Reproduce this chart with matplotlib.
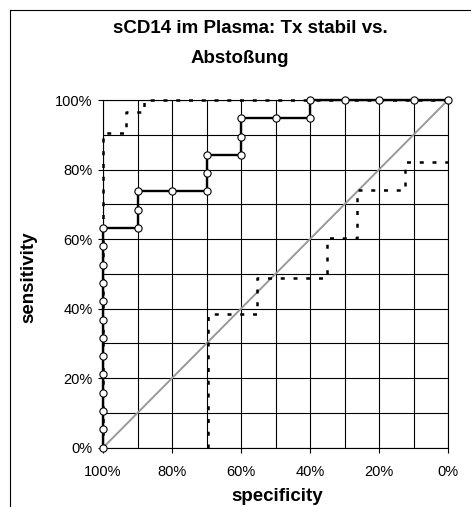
import matplotlib
matplotlib.use("Agg")
import matplotlib.pyplot as plt
from matplotlib.lines import Line2D

plt.rcParams['font.family'] = ['Liberation Sans', 'DejaVu Sans']

title_lines = ["sCD14 im Plasma: Tx stabil vs.", "Abstoßung"]
x_label = "specificity"
y_label = "sensitivity"
tick_values = [0, 20, 40, 60, 80, 100]
tick_labels = ["0%", "20%", "40%", "60%", "80%", "100%"]

# ROC curve with markers (specificity %, sensitivity %)
spec_roc = [100, 100, 100, 100, 100, 100, 100, 100, 100, 100, 100, 100, 100,
            90, 90, 90, 80, 70, 70, 70, 60, 60, 60, 50, 40, 40, 30, 20, 10, 0]
sens_roc = [0, 5.3, 10.5, 15.8, 21.1, 26.3, 31.6, 36.8, 42.1, 47.4, 52.6, 57.9, 63.2,
            63.2, 68.4, 73.7, 73.7, 73.7, 78.9, 84.2, 84.2, 89.5, 94.7, 94.7, 94.7,
            100, 100, 100, 100, 100]

# dotted curves
spec_upper = [100, 100, 93.2, 93.2, 88, 88, 0]
sens_upper = [0, 90.5, 90.5, 96.5, 96.5, 100, 100]

spec_lower = [69.5, 69.5, 55.5, 55.5, 35, 35, 26.5, 26.5, 12.5, 12.5, 0]
sens_lower = [0, 38.4, 38.4, 48.7, 48.7, 60.3, 60.3, 74.1, 74.1, 82.2, 82.2]

diag_x = [100, 0]
diag_y = [0, 100]

fig = plt.figure(figsize=(4.71, 5.07), dpi=100)
ax = fig.add_axes([103 / 471, 1 - 447.7 / 507, 345 / 471, 347.7 / 507])

ax.set_xlim(100, 0)
ax.set_ylim(0, 100)
for v in range(0, 101, 10):
    ax.axvline(v, color='black', lw=0.8, zorder=1)
    ax.axhline(v, color='black', lw=0.8, zorder=1)

ax.plot(diag_x, diag_y, color='#999999', lw=1.4, zorder=2)
ax.plot(spec_roc, sens_roc, color='black', lw=1.7, zorder=3, clip_on=False)
ax.plot(spec_upper, sens_upper, color='black', lw=1.8, linestyle=(0, (1.6, 3.5)),
        zorder=4, clip_on=False)
ax.plot(spec_lower, sens_lower, color='black', lw=1.8, linestyle=(0, (1.6, 3.5)),
        zorder=4, clip_on=False)
ax.plot(spec_roc, sens_roc, linestyle='none', marker='o', markersize=5.2,
        markerfacecolor='white', markeredgecolor='black', markeredgewidth=0.8,
        zorder=5, clip_on=False)

ax.set_xticks(tick_values)
ax.set_xticklabels(tick_labels)
ax.set_yticks(tick_values)
ax.set_yticklabels(tick_labels)
ax.tick_params(axis='both', direction='out', length=3.5, width=0.8, labelsize=10.5,
               colors='black')
ax.tick_params(axis='x', pad=9)
ax.tick_params(axis='y', pad=4)
for sp in ax.spines.values():
    sp.set_linewidth(0.8)
    sp.set_color('black')

fig.text(250 / 471, 1 - 33 / 507, title_lines[0], ha='center', va='baseline',
         fontsize=13.5, fontweight='bold')
fig.text(240 / 471, 1 - 63 / 507, title_lines[1], ha='center', va='baseline',
         fontsize=13.5, fontweight='bold')
fig.text(277 / 471, 1 - 501 / 507, x_label, ha='center', va='baseline',
         fontsize=13.5, fontweight='bold')
fig.text(29 / 471, 1 - 277 / 507, y_label, ha='center', va='center', rotation=90,
         fontsize=13.5, fontweight='bold')

# outer chart border (top and left visible)
fig.add_artist(Line2D([10 / 471, 1], [1 - 10 / 507, 1 - 10 / 507], color='black', lw=0.8))
fig.add_artist(Line2D([10 / 471, 10 / 471], [0, 1 - 10 / 507], color='black', lw=0.8))

fig.savefig("out.png", dpi=100)
